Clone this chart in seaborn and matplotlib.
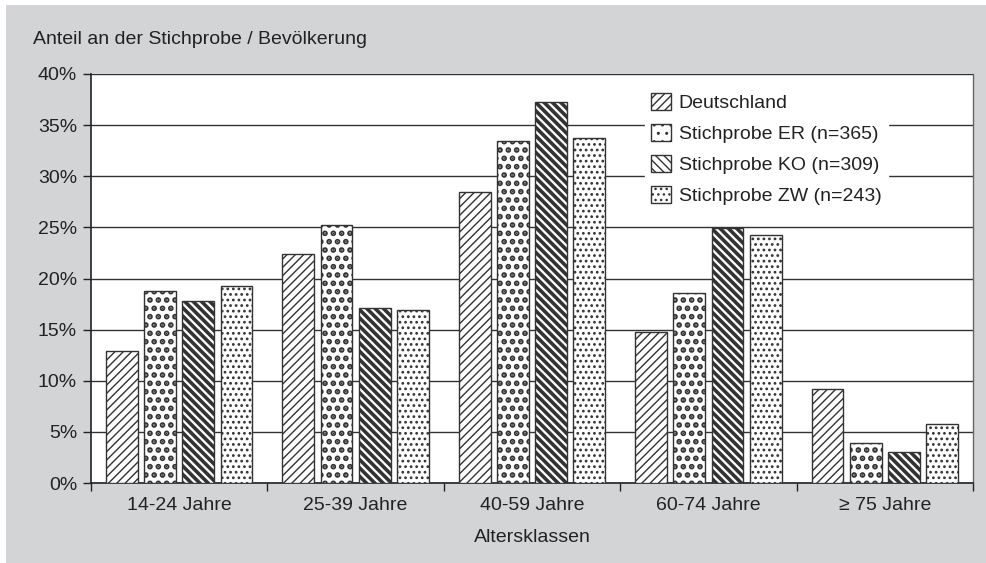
import matplotlib
matplotlib.use("Agg")
import matplotlib.pyplot as plt
from matplotlib.patches import Rectangle
import seaborn as sns
import pandas as pd
import numpy as np

# Altersklassen and sample shares (%)
categories = ["14-24 Jahre", "25-39 Jahre", "40-59 Jahre", "60-74 Jahre", "≥ 75 Jahre"]
series_names = ["Deutschland", "Stichprobe ER (n=365)", "Stichprobe KO (n=309)", "Stichprobe ZW (n=243)"]
deutschland = [12.9, 22.4, 28.5, 14.8, 9.2]
stichprobe_er = [18.8, 25.2, 33.4, 18.6, 3.9]
stichprobe_ko = [17.8, 17.1, 37.3, 24.9, 3.0]
stichprobe_zw = [19.3, 16.9, 33.7, 24.3, 5.8]
y_ticks = [0, 5, 10, 15, 20, 25, 30, 35, 40]

sns.set_theme(style="white")
plt.rcParams["font.family"] = ["Liberation Sans", "DejaVu Sans"]
plt.rcParams["hatch.color"] = "#1a1a1a"

df = pd.DataFrame({
    "Altersklasse": categories * 4,
    "Serie": np.repeat(series_names, len(categories)),
    "Anteil": deutschland + stichprobe_er + stichprobe_ko + stichprobe_zw,
})

FS = 14
TXT = "#222222"
W, H = 986, 563
fig = plt.figure(figsize=(W / 100, H / 100), dpi=100, facecolor="white")
fig.patches.append(Rectangle((6 / W, 0), 1 - 6 / W, 1 - 5 / H, transform=fig.transFigure,
                             facecolor="#d3d4d6", edgecolor="none", zorder=-10))

left, right, top, bottom = 91, 973, 74, 483
ax = fig.add_axes([left / W, 1 - bottom / H, (right - left) / W, (bottom - top) / H])
ax.set_facecolor("white")

sns.barplot(data=df, x="Altersklasse", y="Anteil", hue="Serie", order=categories,
            hue_order=series_names, palette=["white"] * 4, width=0.866, gap=0.17,
            edgecolor="#333333", linewidth=1.0, ax=ax, legend=False, zorder=3)

hatches = ["////", "..", "\\\\\\\\", "..."]
hatch_lw = [1.0, 2.8, 2.6, 1.2]
n = len(categories)
for i, bar in enumerate(ax.patches[: 4 * n]):
    s = i // n
    bar.set_hatch(hatches[s])
    if hasattr(bar, "set_hatch_linewidth"):
        bar.set_hatch_linewidth(hatch_lw[s])

ax.set_ylim(0, 40)
ax.set_xlim(-0.5, n - 0.5)
ax.set_yticks(y_ticks)
ax.set_yticklabels([f"{v}%" for v in y_ticks])
ax.yaxis.grid(True, color="#333333", linewidth=1.0, zorder=0)
ax.set_axisbelow(True)

for side in ["left", "bottom"]:
    ax.spines[side].set_color(TXT)
    ax.spines[side].set_linewidth(1.2)
ax.spines["right"].set_color("#666666")
ax.spines["right"].set_linewidth(1.0)
ax.spines["top"].set_visible(False)

ax.tick_params(axis="y", length=6, width=1, color=TXT, direction="out", left=True,
               labelsize=FS, labelcolor=TXT, pad=4)
ax.tick_params(axis="x", which="major", length=0, labelsize=FS, labelcolor=TXT, pad=10)
ax.set_xticks(np.arange(-0.5, n), minor=True)
ax.tick_params(axis="x", which="minor", length=6, width=1, color=TXT, direction="out", bottom=True)

ax.set_xlabel("Altersklassen", fontsize=FS, color=TXT, labelpad=11)
ax.set_ylabel("")
fig.text(33 / W, 1 - 40 / H, "Anteil an der Stichprobe / Bevölkerung", fontsize=FS,
         color=TXT, va="center", ha="left")

# legend with hatched swatches, white box without frame
handles = []
for s, name in enumerate(series_names):
    p = Rectangle((0, 0), 1, 1, facecolor="white", edgecolor="#333333", hatch=hatches[s], linewidth=1.0)
    if hasattr(p, "set_hatch_linewidth"):
        p.set_hatch_linewidth(hatch_lw[s])
    handles.append(p)
leg = ax.legend(handles, series_names, loc="upper left", bbox_to_anchor=(0.621, 0.985),
                frameon=True, fancybox=False, framealpha=1, edgecolor="white", facecolor="white",
                fontsize=FS, handlelength=1.0, handleheight=1.0, handletextpad=0.4,
                labelspacing=0.6, borderpad=0.35, borderaxespad=0.3)
leg.set_zorder(5)
for t in leg.get_texts():
    t.set_color(TXT)

fig.savefig("out.png", dpi=100, facecolor=fig.get_facecolor())
